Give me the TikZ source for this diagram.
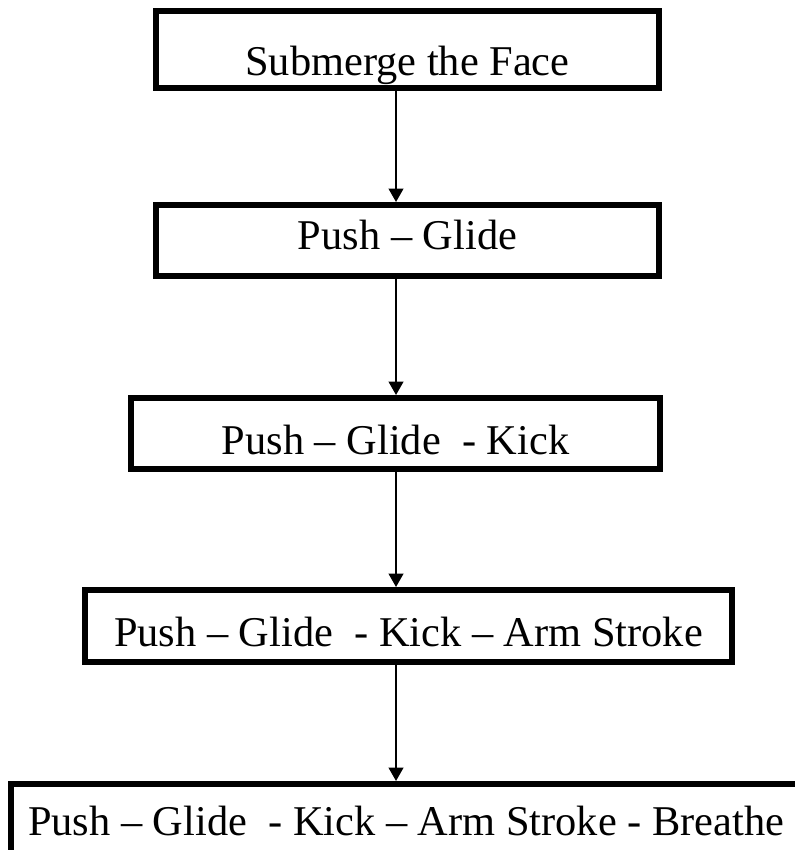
\documentclass[tikz,border=0pt]{standalone}
\usepackage{fontspec}
\setmainfont{Liberation Serif}
\usetikzlibrary{arrows.meta}
\begin{document}
\begin{tikzpicture}[>={Triangle[width=11pt,length=10pt]},x=0.75pt,y=0.75pt,
		stepbox/.style={draw,line width=4.5pt,inner sep=0pt,text depth=0pt,font=\fontsize{31.8pt}{38pt}\selectfont},
		flow/.style={->,line width=1.4pt}]
		\useasboundingbox (0,0) rectangle (794,850);
		\node[stepbox,minimum width=377.25pt,minimum height=57.75pt,text height=39.75pt] (face) at (407.5,800.5) {Submerge the Face};
		\node[stepbox,minimum width=377.25pt,minimum height=53.25pt,text height=14.25pt] (glide) at (407.5,609.5) {Push -- Glide};
		\node[stepbox,minimum width=396.75pt,minimum height=53.25pt,text height=32.25pt] (kick) at (395.5,416.5) {Push -- Glide \ - Kick};
		\node[stepbox,minimum width=485.25pt,minimum height=54pt,text height=31.5pt] (arm) at (408.5,224) {Push -- Glide \ - Kick -- Arm Stroke};
		\node[stepbox,minimum width=592.5pt,minimum height=54pt,text height=24pt] (breathe) at (406,30) {Push -- Glide \ - Kick -- Arm Stroke - Breathe};
		\coordinate (ax) at (396,0);
		\draw[flow] (face.south -| ax) -- (glide.north -| ax);
		\draw[flow] (glide.south -| ax) -- (kick.north -| ax);
		\draw[flow] (kick.south -| ax) -- (arm.north -| ax);
		\draw[flow] (arm.south -| ax) -- (breathe.north -| ax);
\end{tikzpicture}
\end{document}
